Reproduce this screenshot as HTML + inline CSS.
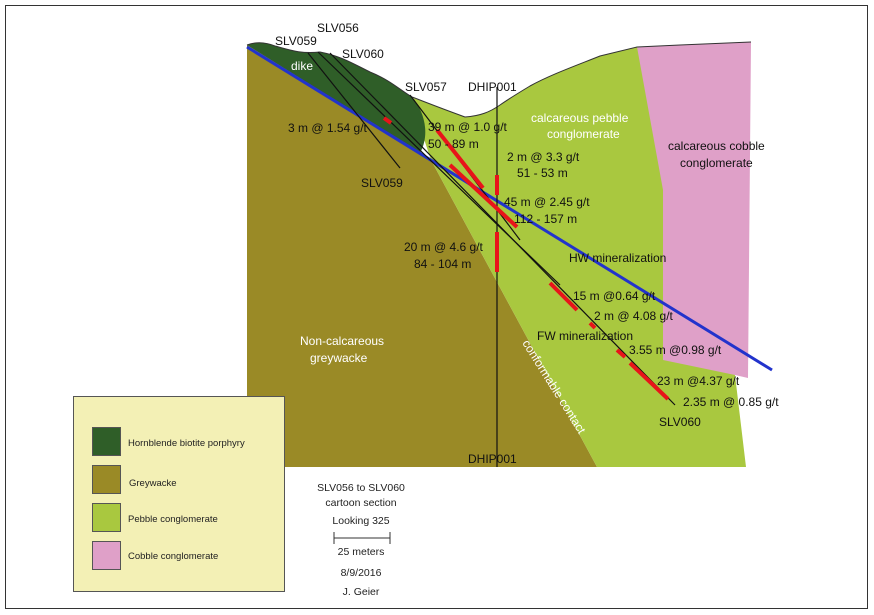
<!DOCTYPE html><html><head><style>body{margin:0;background:#fff}svg{display:block}text{font-family:"Liberation Sans",sans-serif}</style></head><body>
<svg width="874" height="615" viewBox="0 0 874 615">
<rect x="5.5" y="5.5" width="862" height="603" fill="#fff" stroke="#333" stroke-width="1"/>
<!-- greywacke -->
<polygon points="247,45 420,153 431,160 597,467 247,467" fill="#9a8a26"/>
<!-- pebble -->
<path d="M410,97 C420,100 440,108 465,117 C480,116 490,112 500,105 C510,98 520,92 530,86 C550,75 575,66 600,56 L637,47 L750,45 L735,375 L746,467 L597,467 L431,160 Z" fill="#a9c83f"/>
<!-- pink -->
<path d="M637,47 L680,45 L751,42 L748,378 L735,375 L663,360 L663,190 Z" fill="#dfa0c8"/>
<!-- dike -->
<path d="M247,45 C255,42 265,42 275,46 C290,50 300,54 320,52 C340,56 350,62 370,72 C390,80 400,90 412,97 C425,112 430,135 420,153 Z" fill="#2f5e28"/>
<!-- topo outline -->
<path d="M247,45 C255,42 265,42 275,46 C290,50 300,54 320,52 C340,56 350,62 370,72 C390,80 400,90 412,97 C420,100 440,108 465,117 C480,116 490,112 500,105 C510,98 520,92 530,86 C550,75 575,66 600,56 L637,47 L680,45 L751,42" fill="none" stroke="#333" stroke-width="1"/>
<!-- blue -->
<line x1="247" y1="47" x2="772" y2="370" stroke="#2233cc" stroke-width="3"/>
<!-- drill holes -->
<g stroke="#111" stroke-width="1.2">
<line x1="308" y1="53" x2="400" y2="168"/>
<line x1="318" y1="52" x2="560" y2="285"/>
<line x1="330" y1="53" x2="675" y2="405"/>
<line x1="410" y1="95" x2="520" y2="240"/>
<line x1="497" y1="87" x2="497" y2="467"/>
</g>
<g stroke="#e8141a" stroke-width="4">
<line x1="384" y1="118" x2="391" y2="123"/>
<line x1="437" y1="130" x2="483" y2="188"/>
<line x1="450" y1="165" x2="517" y2="227"/>
<line x1="497" y1="175" x2="497" y2="195"/>
<line x1="497" y1="232" x2="497" y2="272"/>
<line x1="550" y1="283" x2="577" y2="310"/>
<line x1="590" y1="323" x2="595" y2="328"/>
<line x1="617" y1="350" x2="625" y2="357"/>
<line x1="630" y1="363" x2="668" y2="399"/>
</g>
<g font-size="12" fill="#111">
<text x="317" y="32">SLV056</text>
<text x="275" y="45">SLV059</text>
<text x="342" y="58">SLV060</text>
<text x="405" y="91">SLV057</text>
<text x="468" y="91">DHIP001</text>
<text x="288" y="132">3 m @ 1.54 g/t</text>
<text x="361" y="187">SLV059</text>
<text x="428" y="131">39 m @ 1.0 g/t</text>
<text x="428" y="148">50 - 89 m</text>
<text x="507" y="161">2 m @ 3.3 g/t</text>
<text x="517" y="177">51 - 53 m</text>
<text x="504" y="206">45 m @ 2.45 g/t</text>
<text x="514" y="223">112 - 157 m</text>
<text x="404" y="251">20 m @ 4.6 g/t</text>
<text x="414" y="268">84 - 104 m</text>
<text x="569" y="262">HW mineralization</text>
<text x="573" y="300">15 m @0.64 g/t</text>
<text x="594" y="320">2 m @ 4.08 g/t</text>
<text x="537" y="340">FW mineralization</text>
<text x="629" y="354">3.55 m @0.98 g/t</text>
<text x="657" y="385">23 m @4.37 g/t</text>
<text x="683" y="406">2.35 m @ 0.85 g/t</text>
<text x="659" y="426">SLV060</text>
<text x="468" y="463">DHIP001</text>
</g>
<g font-size="12" fill="#fff">
<text x="291" y="70">dike</text>
<text x="531" y="122">calcareous pebble</text>
<text x="547" y="138">conglomerate</text>
<text x="300" y="345">Non-calcareous</text>
<text x="310" y="362">greywacke</text>
<text transform="translate(522,343) rotate(58)">conformable contact</text>
</g>
<g font-size="12" fill="#111"><text x="668" y="150">calcareous cobble</text><text x="680" y="167">conglomerate</text></g>
<!-- legend -->
<rect x="73.5" y="396.5" width="211" height="195" fill="#f3f0b5" stroke="#555"/>
<rect x="92.5" y="427.5" width="28" height="28" fill="#2f5e28" stroke="#555"/>
<rect x="92.5" y="465.5" width="28" height="28" fill="#9a8a26" stroke="#555"/>
<rect x="92.5" y="503.5" width="28" height="28" fill="#a9c83f" stroke="#555"/>
<rect x="92.5" y="541.5" width="28" height="28" fill="#dfa0c8" stroke="#555"/>
<g font-size="9.5" fill="#222">
<text x="128" y="446">Hornblende biotite porphyry</text>
<text x="129" y="486">Greywacke</text>
<text x="128" y="522">Pebble conglomerate</text>
<text x="128" y="559">Cobble conglomerate</text>
</g>
<g font-size="10.5" fill="#222" text-anchor="middle">
<text x="361" y="491">SLV056 to SLV060</text>
<text x="361" y="506">cartoon section</text>
<text x="361" y="524">Looking 325</text>
<text x="361" y="555">25 meters</text>
<text x="361" y="576">8/9/2016</text>
<text x="361" y="595">J. Geier</text>
</g>
<g stroke="#333" stroke-width="1"><line x1="334" y1="538" x2="390" y2="538"/><line x1="334" y1="532" x2="334" y2="544"/><line x1="390" y1="532" x2="390" y2="544"/></g>
</svg></body></html>
